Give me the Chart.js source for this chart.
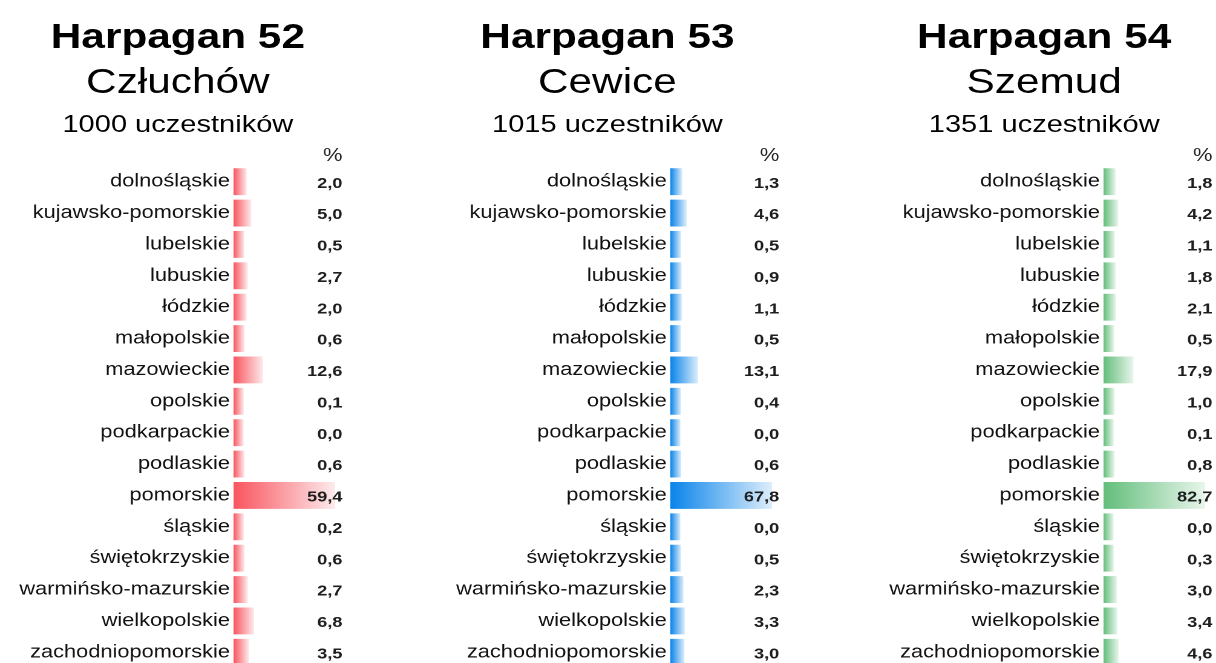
<!DOCTYPE html>
<html>
<head>
<meta charset="utf-8">
<script src="https://cdn.jsdelivr.net/npm/chart.js@4/dist/chart.umd.min.js"></script>
<style>
  html, body { margin: 0; padding: 0; background: #fff; overflow: hidden; }
  #page {
    position: relative; width: 1005px; height: 663px; overflow: hidden;
    transform: scaleX(1.21); transform-origin: 0 0;
    font-family: "Liberation Sans", Arial, sans-serif; color: #000;
  }
  .t { position: absolute; width: 320px; text-align: center; white-space: nowrap; }
  .t1 { font-weight: bold; font-size: 35px; line-height: 35px; top: 18px; }
  .t2 { font-size: 35px; line-height: 35px; top: 63px; }
  .t3 { font-size: 24px; line-height: 24px; top: 112px; }
  canvas { position: absolute; top: 0; }
</style>
</head>
<body>
<div id="page">
  <div class="t t1" style="left:-13px">Harpagan 52</div>
  <div class="t t2" style="left:-13px">Człuchów</div>
  <div class="t t3" style="left:-13px">1000 uczestników</div>

  <div class="t t1" style="left:342px">Harpagan 53</div>
  <div class="t t2" style="left:342px">Cewice</div>
  <div class="t t3" style="left:342px">1015 uczestników</div>

  <div class="t t1" style="left:703px">Harpagan 54</div>
  <div class="t t2" style="left:703px">Szemud</div>
  <div class="t t3" style="left:703px">1351 uczestników</div>

  <canvas id="c52" style="left:0px"></canvas>
  <canvas id="c53" style="left:361px"></canvas>
  <canvas id="c54" style="left:719px"></canvas>
</div>
<script>
const wojewodztwa = [
  'dolnośląskie', 'kujawsko-pomorskie', 'lubelskie', 'lubuskie', 'łódzkie',
  'małopolskie', 'mazowieckie', 'opolskie', 'podkarpackie', 'podlaskie',
  'pomorskie', 'śląskie', 'świętokrzyskie', 'warmińsko-mazurskie',
  'wielkopolskie', 'zachodniopomorskie'
];
const h52 = [2.0, 5.0, 0.5, 2.7, 2.0, 0.6, 12.6, 0.1, 0.0, 0.6, 59.4, 0.2, 0.6, 2.7, 6.8, 3.5];
const h53 = [1.3, 4.6, 0.5, 0.9, 1.1, 0.5, 13.1, 0.4, 0.0, 0.6, 67.8, 0.0, 0.5, 2.3, 3.3, 3.0];
const h54 = [1.8, 4.2, 1.1, 1.8, 2.1, 0.5, 17.9, 1.0, 0.1, 0.8, 82.7, 0.0, 0.3, 3.0, 3.4, 4.6];

const FONT = '"Liberation Sans", Arial, sans-serif';
const fmt = (v) => v.toFixed(1).replace('.', ',');

// liczby po prawej + nagłówek "%"
const valueLabels = {
  id: 'valueLabels',
  afterDatasetsDraw(chart) {
    const { ctx, chartArea } = chart;
    const vals = chart.data.datasets[0].data;
    const x = chartArea.right + 6;
    ctx.save();
    ctx.textAlign = 'right';
    ctx.textBaseline = 'middle';
    ctx.fillStyle = '#1e1e1e';
    ctx.font = 'bold 15px ' + FONT;
    chart.getDatasetMeta(0).data.forEach((bar, i) => ctx.fillText(fmt(vals[i]), x, bar.y + 2));
    ctx.font = '18px ' + FONT;
    ctx.fillStyle = '#222';
    ctx.fillText('%', x, chartArea.top - 10);
    ctx.restore();
  }
};

function makeChart(id, values, color, fade) {
  const max = Math.max(...values);
  const start = -max * 0.11; // minimalna długość paska jak w Excelu
  const canvas = document.getElementById(id);
  canvas.width = 290;
  canvas.height = 700;

  return new Chart(canvas, {
    type: 'bar',
    data: {
      labels: wojewodztwa,
      datasets: [{
        data: values,
        base: start,
        barPercentage: 0.86,
        categoryPercentage: 1,
        borderWidth: 0,
        backgroundColor: (c) => {
          const chart = c.chart;
          if (!chart.chartArea || c.type !== 'data') return color;
          const sx = chart.scales.x;
          const x0 = sx.getPixelForValue(start);
          const x1 = Math.max(sx.getPixelForValue(c.parsed.x), x0 + 1);
          const g = chart.ctx.createLinearGradient(x0, 0, x1, 0);
          g.addColorStop(0, color);
          g.addColorStop(1, fade);
          return g;
        }
      }]
    },
    options: {
      indexAxis: 'y',
      responsive: false,
      animation: false,
      devicePixelRatio: 2,
      layout: { padding: { top: 166, bottom: 32, left: 0, right: 13 } },
      plugins: { legend: { display: false }, tooltip: { enabled: false } },
      scales: {
        x: { display: false, min: start, max: max },
        y: {
          grid: { display: false, drawTicks: false },
          border: { display: false },
          ticks: { color: '#111', padding: 3, font: { family: FONT, size: 18 } },
          afterFit: (scale) => { scale.width = 193; }
        }
      }
    },
    plugins: [valueLabels]
  });
}

makeChart('c52', h52, '#F9555F', '#FDEBEC');
makeChart('c53', h53, '#0A84EA', '#DDEEFC');
makeChart('c54', h54, '#63BE7B', '#E9F6EC');
</script>
</body>
</html>
